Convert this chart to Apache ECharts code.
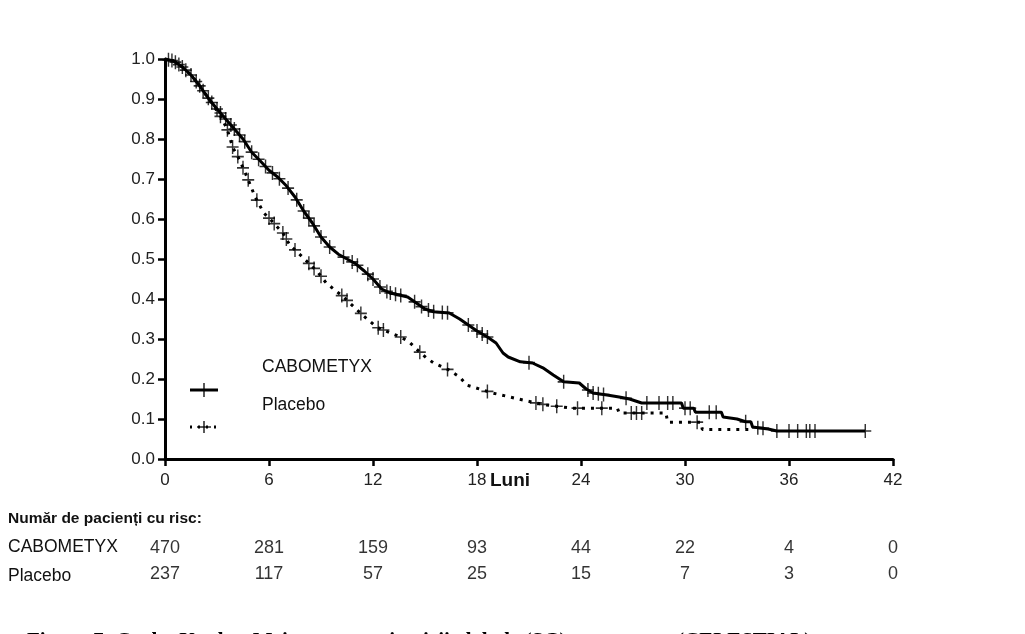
<!DOCTYPE html>
<html>
<head>
<meta charset="utf-8">
<script src="https://cdn.jsdelivr.net/npm/echarts@6/dist/echarts.min.js"></script>
<style>
html, body { margin: 0; padding: 0; background: #fff; }
#main { width: 1025px; height: 634px; }
</style>
</head>
<body>
<div id="main"></div>
<script>
var myChart = echarts.init(document.getElementById('main'));

// curbe Kaplan-Meier [luni, supravietuire] (colturi incluse)
var caboCurve = [
	[0, 1.0], [0.5, 0.995], [1.0, 0.98], [1.5, 0.96], [2.0, 0.933], [2.5, 0.902],
	[3.0, 0.875], [3.5, 0.85], [4.0, 0.825], [4.5, 0.8], [5.0, 0.767], [5.5, 0.745],
	[6.0, 0.722], [6.5, 0.705], [7.0, 0.683], [7.5, 0.655], [8.0, 0.62], [8.5, 0.59],
	[9.0, 0.555], [9.5, 0.53], [10.0, 0.512], [10.5, 0.5], [11.0, 0.488], [11.5, 0.47],
	[12.0, 0.45], [12.5, 0.425], [13.0, 0.415], [13.5, 0.41], [14.0, 0.405], [14.5, 0.39],
	[15.0, 0.375], [15.5, 0.368], [16.4, 0.365], [17.0, 0.35], [17.5, 0.335], [18.0, 0.32],
	[18.6, 0.305], [19.1, 0.29], [19.5, 0.265], [19.8, 0.255], [20.5, 0.243], [21.2, 0.24],
	[21.8, 0.228], [22.4, 0.21], [23.0, 0.193], [23.9, 0.19], [24.3, 0.175], [24.7, 0.165],
	[25.5, 0.16], [26.2, 0.155], [26.8, 0.15], [27.5, 0.14], [29.8, 0.14], [29.9, 0.127],
	[30.5, 0.127], [30.6, 0.117], [32.1, 0.117], [32.2, 0.105], [33.0, 0.1], [33.5, 0.093],
	[33.8, 0.093], [33.9, 0.08], [34.8, 0.075], [35.3, 0.07], [40.4, 0.07]
];
var placeboCurve = [
	[0, 1.0], [0.5, 0.995], [1.0, 0.98], [1.5, 0.96], [2.0, 0.933], [2.5, 0.902],
	[3.0, 0.87], [3.3, 0.85], [3.6, 0.823], [3.9, 0.78], [4.3, 0.748], [4.8, 0.698],
	[5.2, 0.655], [5.7, 0.615], [6.1, 0.598], [6.8, 0.565], [7.2, 0.535], [8.0, 0.502],
	[8.8, 0.468], [9.3, 0.44], [10.3, 0.405], [10.9, 0.38], [11.4, 0.36], [12.2, 0.33],
	[13.0, 0.315], [13.6, 0.305], [14.1, 0.292], [14.7, 0.267], [15.1, 0.252], [15.5, 0.24],
	[16.4, 0.222], [17.0, 0.205], [17.4, 0.185], [18.9, 0.165], [19.9, 0.155], [21.2, 0.142],
	[22.0, 0.135], [23.5, 0.127], [26.1, 0.127], [26.2, 0.115], [28.9, 0.115], [29.0, 0.092],
	[30.9, 0.092], [31.0, 0.074], [34.0, 0.074]
];

// momentele cenzurarii (+)
var caboCensor = [0.2, 0.4, 0.6, 0.8, 1.0, 1.2, 1.5, 1.8, 2.0, 2.2, 2.5, 2.7, 3.0, 3.2, 3.5,
	3.8, 4.0, 4.3, 4.6, 5.0, 5.4, 5.8, 6.2, 6.6, 7.1, 7.6, 8.0, 8.3, 8.6, 9.0, 9.5, 10.3,
	10.8, 11.1, 11.7, 12.0, 12.4, 12.8, 13.0, 13.3, 13.6, 14.4, 14.8, 15.2, 15.5, 16.0, 16.3,
	17.5, 18.0, 18.3, 18.6, 21.0, 23.0, 24.4, 24.7, 25.0, 25.3, 26.6, 27.8, 28.5, 29.0, 29.3,
	30.0, 30.3, 31.4, 31.8, 33.5, 34.2, 34.5, 35.3, 36.0, 36.5, 37.0, 37.2, 37.5, 40.4];
var placeboCensor = [3.2, 3.6, 3.9, 4.2, 4.5, 4.8, 5.3, 6.0, 6.3, 6.8, 7.0, 7.5, 8.3, 8.6,
	9.0, 10.2, 10.5, 11.3, 12.3, 12.6, 13.6, 14.7, 16.3, 18.6, 21.4, 21.8, 22.6, 23.8, 25.2,
	26.9, 27.2, 27.5, 30.7];

// numar de pacienti cu risc
var riskTimes = [0, 6, 12, 18, 24, 30, 36, 42];
var riskCabo = [470, 281, 159, 93, 44, 22, 4, 0];
var riskPlacebo = [237, 117, 57, 25, 15, 7, 3, 0];
var riskRows = ['CABOMETYX', 'Placebo'];

var plusSymbol = 'path://M4.4,0h1.2v10h-1.2zM0,4.4h10v1.2h-10z';
var txtFont = '"Liberation Sans", Arial, sans-serif';
var capFont = 'bold 21px "Liberation Serif", "Times New Roman", serif';

function survAt(curve, t) { // punct pe curba la momentul t
	for (var i = 1; i < curve.length; i++) {
		var a = curve[i - 1], b = curve[i];
		if (t <= b[0]) {
			return a[1] + (b[1] - a[1]) * (t - a[0]) / (b[0] - a[0]);
		}
	}
	return curve[curve.length - 1][1];
}

function censorData(curve, times) {
	return times.map(function (t) { return [t, survAt(curve, t)]; });
}

function riskData(vals, row) {
	return vals.map(function (v, i) { return [riskTimes[i], row, v]; });
}

var option = {
	backgroundColor: '#fff',
	animation: false,
	grid: [{
		left: 165, right: 132, top: 59, bottom: 175
	}, {
		left: 165, right: 132, top: 535, height: 52
	}],
	xAxis: [{
		type: 'value',
		gridIndex: 0,
		min: 0, max: 42, interval: 6,
		axisLine: { lineStyle: { color: '#000', width: 3 } },
		axisTick: { length: 7, lineStyle: { color: '#000', width: 2.5 } },
		axisLabel: { color: '#222', fontSize: 17, margin: 13, fontFamily: txtFont },
		splitLine: { show: false }
	}, {
		type: 'value',
		gridIndex: 1,
		min: 0, max: 42,
		show: false
	}],
	yAxis: [{
		type: 'value',
		gridIndex: 0,
		min: 0, max: 1, interval: 0.1,
		axisLine: { show: true, lineStyle: { color: '#000', width: 3 } },
		axisTick: { show: true, length: 7, lineStyle: { color: '#000', width: 2.5 } },
		axisLabel: {
			color: '#222', fontSize: 17, margin: 10, fontFamily: txtFont,
			formatter: function (v) { return v.toFixed(1); }
		},
		splitLine: { show: false }
	}, {
		type: 'category',
		gridIndex: 1,
		data: riskRows,
		inverse: true,
		show: false
	}],
	series: [{
		name: 'CABOMETYX',
		type: 'line',
		data: caboCurve,
		showSymbol: false,
		lineStyle: { color: '#000', width: 3 },
		z: 3
	}, {
		name: 'Placebo',
		type: 'line',
		data: placeboCurve,
		showSymbol: false,
		lineStyle: { color: '#000', width: 3, type: [3, 6] },
		z: 2
	}, {
		type: 'scatter',
		data: censorData(caboCurve, caboCensor),
		symbol: plusSymbol,
		symbolSize: [12, 14],
		itemStyle: { color: '#000' },
		z: 4
	}, {
		type: 'scatter',
		data: censorData(placeboCurve, placeboCensor),
		symbol: plusSymbol,
		symbolSize: [12, 14],
		itemStyle: { color: '#000' },
		z: 4
	}, {
		type: 'scatter',
		xAxisIndex: 1, yAxisIndex: 1,
		data: riskData(riskCabo, 'CABOMETYX').concat(riskData(riskPlacebo, 'Placebo')),
		symbolSize: 0,
		label: {
			show: true, position: 'inside', color: '#000', fontSize: 18, fontFamily: txtFont,
			formatter: function (p) { return String(p.value[2]); }
		}
	}],
	graphic: [
		// eticheta axei x
		{ type: 'text', left: 490, top: 471, style: { text: 'Luni', font: 'bold 19px ' + txtFont, fill: '#111' } },
		// legenda
		{ type: 'line', shape: { x1: 190, y1: 390, x2: 218, y2: 390 }, style: { stroke: '#000', lineWidth: 3 } },
		{ type: 'line', shape: { x1: 204, y1: 383, x2: 204, y2: 397 }, style: { stroke: '#000', lineWidth: 1.3 } },
		{ type: 'line', shape: { x1: 190, y1: 427, x2: 218, y2: 427 }, style: { stroke: '#000', lineWidth: 3, lineDash: [2, 6] } },
		{ type: 'line', shape: { x1: 197, y1: 427, x2: 211, y2: 427 }, style: { stroke: '#000', lineWidth: 1.3 } },
		{ type: 'line', shape: { x1: 204, y1: 421, x2: 204, y2: 433 }, style: { stroke: '#000', lineWidth: 1.3 } },
		{ type: 'text', left: 262, top: 358, style: { text: 'CABOMETYX', font: '17.5px ' + txtFont, fill: '#111' } },
		{ type: 'text', left: 262, top: 396, style: { text: 'Placebo', font: '17.5px ' + txtFont, fill: '#111' } },
		// tabel risc
		{ type: 'text', left: 8, top: 511, style: { text: 'Număr de pacienți cu risc:', font: 'bold 15.5px ' + txtFont, fill: '#111' } },
		{ type: 'text', left: 8, top: 538, style: { text: 'CABOMETYX', font: '17.5px ' + txtFont, fill: '#111' } },
		{ type: 'text', left: 8, top: 567, style: { text: 'Placebo', font: '17.5px ' + txtFont, fill: '#111' } },
		// titlu figura (taiat jos)
		{ type: 'text', left: 27, top: 631, style: { text: 'Figura 7: Curba Kaplan-Meier a supraviețuirii globale (SG)', font: capFont, fill: '#000' } },
		{ type: 'text', left: 677, top: 631, style: { text: '(CELESTIAL)', font: capFont, fill: '#000' } }
	]
};

myChart.setOption(option);
</script>
</body>
</html>
